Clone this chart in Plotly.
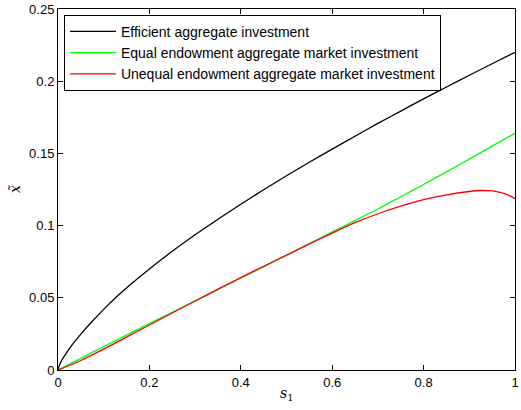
import plotly.graph_objects as go

s_black = [0, 0.002, 0.005, 0.01, 0.02, 0.03, 0.04, 0.05, 0.07, 0.1, 0.13, 0.16, 0.2, 0.25, 0.3, 0.35,
           0.4, 0.45, 0.5, 0.55, 0.6, 0.65, 0.7, 0.75, 0.8, 0.85, 0.9, 0.95, 1.0]
efficient = [0, 0.0025, 0.0047, 0.0077, 0.0126, 0.0170, 0.0210, 0.0248, 0.0320, 0.0420, 0.0512, 0.0596,
             0.0700, 0.0822, 0.0936, 0.1044, 0.1148, 0.1248, 0.1345, 0.1439, 0.1530, 0.1619, 0.1708,
             0.1793, 0.1878, 0.1960, 0.2041, 0.2121, 0.2200]

s_green = [0, 0.05, 0.1, 0.15, 0.2, 0.25, 0.3, 0.35, 0.4, 0.45, 0.5, 0.55, 0.6, 0.65, 0.7, 0.75, 0.8,
           0.85, 0.9, 0.95, 1.0]
equal = [0, 0.0081, 0.0162, 0.0242, 0.0321, 0.0400, 0.0479, 0.0558, 0.0637, 0.0716, 0.0796, 0.0876,
         0.0956, 0.1035, 0.1115, 0.1200, 0.1285, 0.1372, 0.1460, 0.1550, 0.1640]

s_red = [0, 0.025, 0.05, 0.1, 0.15, 0.2, 0.25, 0.3, 0.35, 0.4, 0.45, 0.5, 0.55, 0.6, 0.65, 0.7, 0.75,
         0.8, 0.85, 0.9, 0.925, 0.95, 0.97, 0.98, 0.99, 1.0]
unequal = [0, 0.0031, 0.0066, 0.0145, 0.0228, 0.0312, 0.0395, 0.0478, 0.0560, 0.0640, 0.0718, 0.0795,
           0.0873, 0.0948, 0.1020, 0.1082, 0.1135, 0.1180, 0.1213, 0.1236, 0.1243, 0.1240, 0.1228,
           0.1218, 0.1204, 0.1187]

x_ticks = [0, 0.2, 0.4, 0.6, 0.8, 1]
x_labels = ["0", "0.2", "0.4", "0.6", "0.8", "1"]
y_ticks = [0, 0.05, 0.1, 0.15, 0.2, 0.25]
y_labels = ["0", "0.05", "0.1", "0.15", "0.2", "0.25"]

names = ["Efficient aggregate investment",
         "Equal endowment aggregate market investment",
         "Unequal endowment aggregate market investment"]

fig = go.Figure()
fig.add_trace(go.Scatter(x=s_black, y=efficient, mode="lines", name=names[0],
                         line=dict(color="black", width=1.3, shape="spline", smoothing=0.5)))
fig.add_trace(go.Scatter(x=s_green, y=equal, mode="lines", name=names[1],
                         line=dict(color="#00ff00", width=1.3, shape="spline", smoothing=0.5)))
fig.add_trace(go.Scatter(x=s_red, y=unequal, mode="lines", name=names[2],
                         line=dict(color="#ff0000", width=1.3, shape="spline", smoothing=0.5)))

axis_common = dict(showline=True, linecolor="black", linewidth=1, mirror="ticks",
                   ticks="inside", ticklen=5, tickcolor="black", showgrid=False,
                   zeroline=False, tickfont=dict(size=13, color="black"),
                   ticklabeloverflow="allow")

fig.update_layout(
    width=521, height=410,
    margin=dict(l=58, r=2, t=5, b=40),
    paper_bgcolor="white", plot_bgcolor="white",
    font=dict(family="Liberation Sans, Arial, sans-serif", size=13, color="black"),
    xaxis=dict(range=[0, 1.0000001], tickvals=x_ticks, ticktext=x_labels, **axis_common),
    yaxis=dict(range=[0, 0.25000001], tickvals=y_ticks, ticktext=y_labels, **axis_common),
    legend=dict(x=0.013, y=0.984, xanchor="left", yanchor="top",
                bordercolor="black", borderwidth=1, bgcolor="white",
                font=dict(size=14), tracegroupgap=0, itemwidth=46),
    showlegend=True,
    annotations=[
        dict(text="<i>s</i><sub>1</sub>", x=0.5, y=-0.035, xref="paper", yref="paper",
             xanchor="center", yanchor="top", showarrow=False,
             font=dict(family="DejaVu Serif, serif", size=14)),
        dict(text="<i>x̃</i>", x=-0.095, y=0.5, xref="paper", yref="paper",
             xanchor="center", yanchor="middle", showarrow=False, textangle=-90,
             font=dict(family="DejaVu Serif, serif", size=14)),
    ],
)

fig.write_html("out.html", config={"displayModeBar": False},
               post_script="document.body.style.margin='0';document.body.style.padding='0';")
